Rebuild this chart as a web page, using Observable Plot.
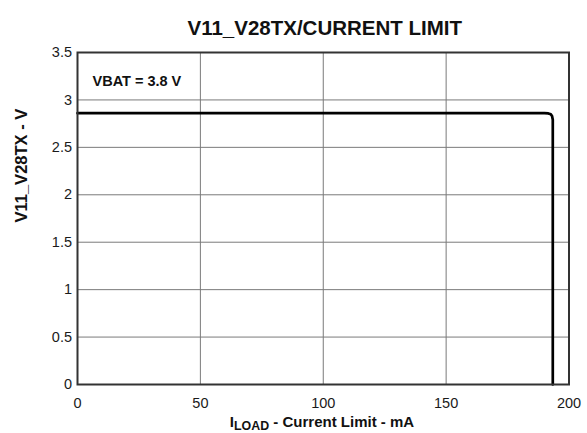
<!DOCTYPE html>
<html><head><meta charset="utf-8">
<script src="https://cdn.jsdelivr.net/npm/d3@7"></script>
<script src="https://cdn.jsdelivr.net/npm/@observablehq/plot@0.6"></script>
<style>body{margin:0;background:#fff;font-family:"Liberation Sans",Arial,sans-serif;}</style>
</head><body><div id="chart"></div>
<script>
const iload = [0, 100, 190, 191.6, 192.6, 193.1, 193.4, 193.4];
const vout  = [2.86, 2.86, 2.86, 2.858, 2.848, 2.83, 2.79, 0];
const xTicks = [0, 50, 100, 150, 200];
const yTicks = [0, 0.5, 1, 1.5, 2, 2.5, 3, 3.5];
const title = "V11_V28TX/CURRENT LIMIT";
const note = "VBAT = 3.8 V";
const yLabel = "V11_V28TX - V";
const data = iload.map((x, i) => ({x, y: vout[i]}));

const chart = Plot.plot({
  width: 587, height: 433,
  marginLeft: 77, marginRight: 18.5, marginTop: 52, marginBottom: 49,
  style: {fontFamily: "Liberation Sans, Arial, sans-serif", fontSize: "14.5px", color: "#1a1a1a", background: "#fff"},
  x: {domain: [0, 200], label: null},
  y: {domain: [0, 3.5], label: null},
  marks: [
    Plot.gridX(xTicks, {stroke: "#7a7a7a", strokeOpacity: 1, strokeWidth: 1}),
    Plot.gridY(yTicks, {stroke: "#7a7a7a", strokeOpacity: 1, strokeWidth: 1}),
    Plot.line(data, {x: "x", y: "y", stroke: "#000", strokeWidth: 2.7, strokeLinejoin: "round"}),
    Plot.frame({stroke: "#333", strokeWidth: 2}),
    Plot.text([note], {frameAnchor: "top-left", dx: 15, dy: 23, text: d => d, textAnchor: "start", fontWeight: "bold", fontSize: 14.5, fill: "#111"}),
    Plot.text([title], {frameAnchor: "top", dx: 1.5, dy: -32, text: d => d, fontWeight: "bold", fontSize: 20.5, fill: "#111"}),
    Plot.text([yLabel], {frameAnchor: "left", dx: -56, dy: 4, rotate: -90, text: d => d, fontWeight: "bold", fontSize: 16.5, fill: "#111"}),
    Plot.axisX({ticks: xTicks, tickSize: 0, tickPadding: 13, label: null, fontSize: 14.5}),
    Plot.axisY({ticks: yTicks, tickSize: 0, tickPadding: 5.5, label: null, tickFormat: d => String(d), fontSize: 14.5})
  ]
});
document.getElementById("chart").append(chart);

// x-axis label with subscript
const svg = d3.select(chart);
const t = svg.append("text")
  .attr("x", 322).attr("y", 426.5)
  .attr("text-anchor", "middle")
  .attr("font-family", "Liberation Sans, Arial, sans-serif")
  .attr("font-weight", "bold").attr("font-size", 15).attr("fill", "#111");
t.append("tspan").text("I");
t.append("tspan").attr("dy", 3.5).attr("font-size", 12.4).text("LOAD");
t.append("tspan").attr("dy", -3.5).text(" - Current Limit - mA");
</script></body></html>
